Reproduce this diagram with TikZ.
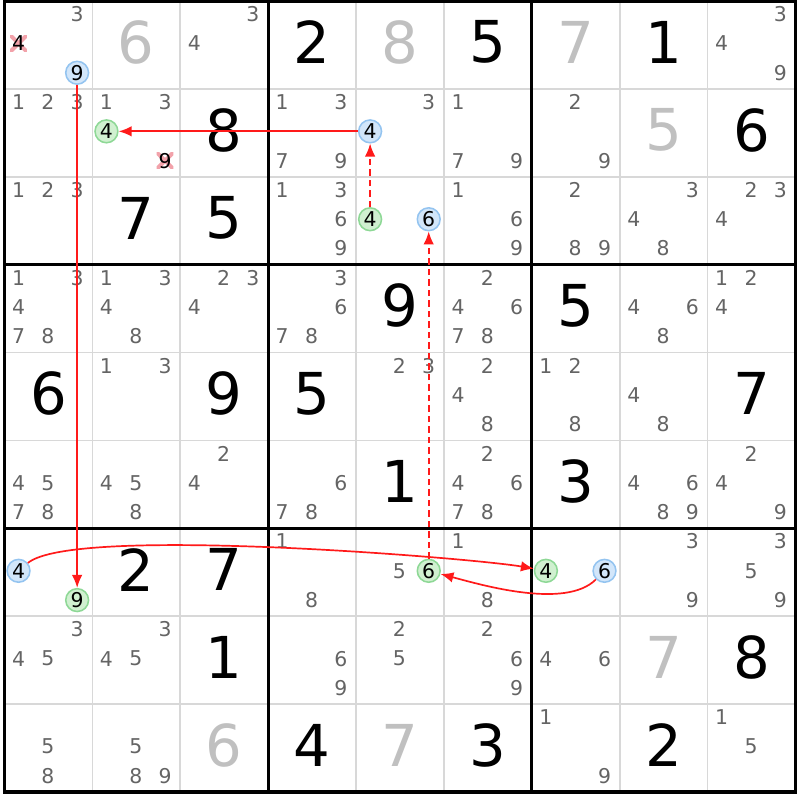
\documentclass[tikz,border=0pt]{standalone}
\usepackage{fontspec}
\setmainfont{DejaVu Sans}
\usetikzlibrary{arrows.meta}
\definecolor{candgray}{HTML}{646464}
\definecolor{solvedgray}{HTML}{C0C0C0}
\definecolor{gridgray}{HTML}{D8D8D8}
\definecolor{blueedge}{HTML}{94C4F0}
\definecolor{bluefill}{HTML}{D2E6FA}
\definecolor{greenedge}{HTML}{8ED896}
\definecolor{greenfill}{HTML}{D0F0D0}
\definecolor{elimpink}{HTML}{F2A2AA}
\definecolor{linkred}{HTML}{FF1A1A}

\tikzset{
  cand/.style={inner sep=0pt,text=candgray,font=\fontsize{6.6}{8}\selectfont},
  given/.style={inner sep=0pt,font=\fontsize{18.7}{22}\selectfont},
  solved/.style={given,text=solvedgray},
  bluec/.style={cand,text=black,circle,draw=blueedge,fill=bluefill,line width=0.5pt,minimum size=0.26cm},
  greenc/.style={bluec,draw=greenedge,fill=greenfill},
  elim/.style={cand,text=black,minimum size=0.19cm,path picture={\draw[elimpink,line width=1.3pt] (path picture bounding box.north west) -- (path picture bounding box.south east) (path picture bounding box.south west) -- (path picture bounding box.north east);}},
  link/.style={->,draw=linkred,line width=0.55pt},
  dashlink/.style={link,dash pattern=on 2pt off 1.4pt}
}

\begin{document}
\begin{tikzpicture}[>={Latex[length=4.2pt,width=3.4pt]},
  declare function={candx(\xa,\xb)=\xa-1+(mod(\xb-1,3)+0.48)/3; candy(\xa,\xb)=-(\xa-1)-(floor((\xb-1)/3)+0.45)/3;}]
\useasboundingbox (-0.051,0.011) rectangle (9.051,-9.091);
% grid
\foreach \i in {1,2,4,5,7,8} {
  \draw[gridgray,line width=0.5pt] (\i,0) -- (\i,-9);
  \draw[gridgray,line width=0.5pt] (0,-\i) -- (9,-\i);
}
\foreach \i in {3,6} {
  \draw[line width=1pt] (\i,0) -- (\i,-9);
  \draw[line width=1pt] (0,-\i) -- (9,-\i);
}
\draw[line width=1pt] (0,0) rectangle (9,-9);

% givens and solved cells
\foreach \row/\col/\val in {1/4/2,1/6/5,1/8/1,2/3/8,2/9/6,3/2/7,3/3/5,4/5/9,4/7/5,5/1/6,5/3/9,5/4/5,5/9/7,
    6/5/1,6/7/3,7/2/2,7/3/7,8/3/1,8/9/8,9/4/4,9/6/3,9/8/2}
  \node[given] (g\row\col) at (\col-0.5,-\row+0.53) {\val};
\foreach \row/\col/\val in {1/2/6,1/5/8,1/7/7,2/8/5,8/8/7,9/3/6,9/5/7}
  \node[solved] (g\row\col) at (\col-0.5,-\row+0.53) {\val};

% candidates
\foreach \row/\col/\digs in {1/1/{3},1/3/{3,4},1/9/{3,4,9},
    2/1/{1,2,3},2/2/{1,3},2/4/{1,3,7,9},2/5/{3},2/6/{1,7,9},2/7/{2,9},
    3/1/{1,2,3},3/4/{1,3,6,9},3/6/{1,6,9},3/7/{2,8,9},3/8/{3,4,8},3/9/{2,3,4},
    4/1/{1,3,4,7,8},4/2/{1,3,4,8},4/3/{2,3,4},4/4/{3,6,7,8},4/6/{2,4,6,7,8},4/8/{4,6,8},4/9/{1,2,4},
    5/2/{1,3},5/5/{2,3},5/6/{2,4,8},5/7/{1,2,8},5/8/{4,8},
    6/1/{4,5,7,8},6/2/{4,5,8},6/3/{2,4},6/4/{6,7,8},6/6/{2,4,6,7,8},6/8/{4,6,8,9},6/9/{2,4,9},
    7/4/{1,8},7/5/{5},7/6/{1,8},7/8/{3,9},7/9/{3,5,9},
    8/1/{3,4,5},8/2/{3,4,5},8/4/{6,9},8/5/{2,5},8/6/{2,6,9},8/7/{4,6},
    9/1/{5,8},9/2/{5,8,9},9/7/{1,9},9/9/{1,5}}
  \foreach \dig in \digs
    \node[cand] (k\row\col\dig) at ({candx(\col,\dig)},{candy(\row,\dig)}) {\dig};
\foreach \row/\col/\dig in {1/1/4,2/2/9}
  \node[elim] (k\row\col\dig) at ({candx(\col,\dig)},{candy(\row,\dig)}) {\dig};
\foreach \row/\col/\dig in {1/1/9,2/5/4,3/5/6,7/1/4,7/7/6}
  \node[bluec] (k\row\col\dig) at ({candx(\col,\dig)},{candy(\row,\dig)}) {\dig};
\foreach \row/\col/\dig in {2/2/4,3/5/4,7/1/9,7/5/6,7/7/4}
  \node[greenc] (k\row\col\dig) at ({candx(\col,\dig)},{candy(\row,\dig)}) {\dig};

% chain
\draw[link] (k119) -- (k719);
\draw[link] (k254) -- (k224);
\draw[dashlink] (k354) -- (k254);
\draw[dashlink] (k756) -- (k356);
\draw[link] (k714) to [out=40,in=170,looseness=0.3] (k774);
\draw[link] (k776) to [out=225,in=-15,looseness=0.7] (k756);
\end{tikzpicture}
\end{document}
